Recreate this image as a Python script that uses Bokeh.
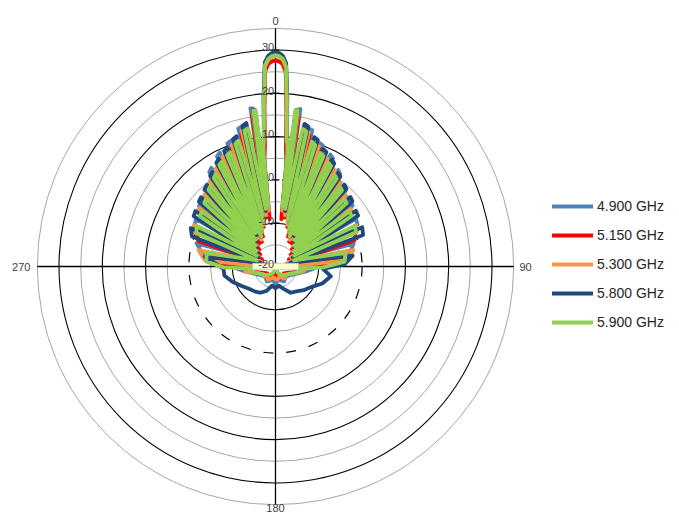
import numpy as np
from bokeh.plotting import figure
from bokeh.models import Range1d, Legend, LegendItem
from bokeh.core.properties import value
from bokeh.embed import file_html
from bokeh.resources import INLINE

# ---------------- data: angle (deg, clockwise from top) and gain (dB) ----------------
back_angles = [100, 110, 120, 130, 140, 150, 160, 170, 180, 190, 200, 210, 220, 230, 240, 250, 260]

ang_4900 = ([0, 1, 2, 3, 4, 5, 6, 7, 8, 9, 11.1, 13.3, 15.1, 17.3, 19.6, 21.4, 23.7, 26.1, 28.0, 30.5,
             33.0, 35.1, 37.8, 40.5, 42.8, 45.9, 49.0, 51.7, 55.3, 59.3, 62.9, 67.7, 73.7, 81.9, 88, 93]
            + back_angles +
            [267, 272, 278.1, 286.3, 292.3, 297.1, 300.7, 304.7, 308.3, 311.0, 314.1, 317.2, 319.5, 322.2,
             324.9, 327.0, 329.5, 332.0, 333.9, 336.3, 338.6, 340.4, 342.7, 344.9, 346.7, 348.9, 351, 352,
             353, 354, 355, 356, 357, 358, 359])
gain_4900 = [29.2, 29.0, 28.4, 26.7, 18.5, 10.0, 6.5, -7, 16.5, 16.8, -8, 12.8, 12.6, -10, 10.3, 10.0,
             -12, 8.8, 8.3, -13, 6.6, 6.0, -13, 4.2, 3.9, -14.2, 3.0, 2.7, -15.3, 1.6, 1.3, -16.3,
             -1.2, -3.0, -15.5, -11,
             -13, -15, -16, -16.5, -16.5, -16, -16.5, -17, -15.5, -17, -16.5, -16, -16.5, -16.5, -16, -15, -13,
             -11, -16, -3.3, -1.0, -16, 1.0, 1.4, -15, 2.5, 3.0, -14, 4.2, 4.6, -12.8, 6.6, 7.2, -13, 8.8,
             9.3, -12, 10.5, 10.8, -10, 13.0, 13.3, -8, 17.0, 16.8, -7, 7.0, 10.5, 19.0, 26.9, 28.4, 29.0]

ang_5150 = ([0, 1, 2, 3, 4, 5, 6, 7.0, 7.8, 8.8, 10.7, 12.7, 14.5, 16.6, 18.7, 20.5, 22.6, 24.8, 26.7,
             29.0, 31.3, 33.4, 35.8, 38.3, 40.5, 43.2, 46.1, 48.6, 51.7, 55.1, 58.2, 62.3, 66.9, 71.8, 78,
             84, 88, 93]
            + back_angles +
            [267, 272, 276, 282, 288.2, 293.1, 297.7, 301.8, 304.9, 308.3, 311.4, 313.9, 316.8, 319.5,
             321.7, 324.2, 326.6, 328.7, 331.0, 333.3, 335.2, 337.4, 339.5, 341.3, 343.4, 345.5, 347.3,
             349.3, 351.2, 352.2, 353.0, 354, 355, 356, 357, 358, 359])
gain_5150 = [27.6, 27.4, 26.8, 25.0, 16.0, 7.5, 4.0, -9, 15.0, 15.2, -8.5, 11.7, 11.4, -10.5, 9.3, 9.0,
             -12.5, 7.6, 7.2, -13.5, 5.6, 5.2, -13.5, 3.6, 3.3, -14.5, 2.2, 2.0, -15.5, 1.0, 0.8, -16.5,
             0.0, -0.8, -17.5, -4.5, -6.5, -14,
             -14, -16, -17, -17.5, -17, -17.5, -17, -18, -17.5, -18, -17, -17.5, -17, -17.5, -17, -16, -14,
             -14, -7, -5, -17.5, -1.2, -0.3, -16.5, 0.6, 0.9, -15.5, 1.8, 2.1, -14.5, 3.2, 3.5, -13.5,
             5.0, 5.5, -13.5, 7.0, 7.5, -12.5, 9.1, 9.4, -10.5, 11.5, 11.9, -8.5, 15.3, 15.1, -9, 4.5, 8.0,
             16.5, 25.2, 26.8, 27.4]

ang_5300 = ([0, 1, 2, 3, 4, 5, 6, 6.8, 7.5, 8.4, 10.3, 12.2, 14.0, 16.0, 18.0, 19.8, 21.9, 24.0, 25.9,
             28.0, 30.2, 32.2, 34.5, 36.9, 39.1, 41.6, 44.2, 46.6, 49.5, 52.6, 55.5, 59.0, 63.0, 67.1,
             71.8, 78, 85, 89, 94]
            + back_angles +
            [266, 271, 275, 282, 288.2, 292.9, 297.0, 301.0, 304.5, 307.4, 310.5, 313.4, 315.8, 318.4,
             320.9, 323.1, 325.5, 327.8, 329.8, 332.0, 334.1, 336.0, 338.1, 340.2, 342.0, 344.0, 346.0,
             347.8, 349.7, 351.6, 352.5, 353.2, 354, 355, 356, 357, 358, 359])
gain_5300 = [28.6, 28.4, 27.8, 26.0, 17.5, 9.5, 6.0, -7, 15.8, 16.0, -8, 12.3, 12.0, -10, 9.8, 9.5,
             -11.5, 8.0, 7.6, -13, 6.4, 5.9, -12.5, 4.6, 4.2, -13.8, 3.2, 2.9, -14.8, 1.9, 1.7, -15.8,
             0.9, 0.4, -16.7, -1.6, -3.4, -16, -13,
             -13.5, -15.5, -16.5, -17, -16.5, -17, -17.5, -17, -17, -17.5, -17, -16.5, -17, -16.5, -16.5, -15.5, -13,
             -13, -16, -3.6, -1.8, -16.5, 0.6, 1.1, -15.5, 1.9, 2.2, -14.5, 3.0, 3.4, -13.5, 4.5, 5.0,
             -12.3, 6.2, 6.8, -13, 8.0, 8.5, -11.5, 9.8, 10.2, -10, 12.4, 12.6, -8, 16.2, 16.0, -7, 6.5,
             10.0, 18.0, 26.2, 27.8, 28.4]

ang_5800 = ([0, 1, 2, 3, 4, 5, 6, 6.8, 7.4, 8.2, 9.8, 11.5, 13.2, 15.0, 16.7, 18.5, 20.3, 22.1, 24.0,
             25.9, 27.8, 29.7, 31.7, 33.7, 35.8, 37.9, 40.1, 42.4, 44.7, 47.1, 49.7, 52.4, 55.3, 58.4,
             61.8, 65.6, 70.2, 76, 82, 88, 93]
            + back_angles +
            [267, 272, 278, 284, 289.8, 294.4, 298.2, 301.6, 304.7, 307.6, 310.3, 312.9, 315.3, 317.6,
             319.9, 322.1, 324.2, 326.3, 328.3, 330.3, 332.2, 334.1, 336.0, 337.9, 339.7, 341.5, 343.3,
             345.0, 346.8, 348.5, 350.2, 351.8, 352.6, 353.2, 354, 355, 356, 357, 358, 359])
gain_5800 = [29.5, 29.3, 28.7, 27.0, 19.0, 10.5, 6.5, -6, 16.4, 16.6, -7, 13.6, 13.2, -9, 11.2, 10.8,
             -11, 9.3, 8.9, -12.3, 7.9, 7.4, -11.8, 6.0, 5.6, -12.8, 4.7, 4.3, -13.8, 3.6, 3.3, -14.8,
             2.6, 2.4, -15.5, 2.0, 1.5, -16.5, -2.0, -4.0, -9,
             -7, -8.5, -10.5, -11.5, -12.5, -13, -14.5, -15.5, -15, -15.5, -14, -13, -12.5, -12, -11, -9.5, -8,
             -8, -6.5, -3.5, -16.5, 0.5, 1.5, -15.5, 2.2, 2.5, -14.8, 3.2, 3.5, -13.8, 4.2, 4.6, -12.8,
             5.8, 6.2, -11.5, 7.6, 8.1, -12.3, 9.2, 9.6, -11, 11.0, 11.4, -9, 13.4, 13.8, -7, 16.6, 16.4,
             -6, 7.0, 11.0, 19.5, 27.2, 28.7, 29.3]

ang_5900 = ([0, 1, 2, 3, 4, 5, 6, 6.7, 7.3, 8.1, 9.5, 11.2, 12.9, 14.6, 16.3, 18.1, 19.8, 21.6, 23.5,
             25.2, 27.1, 29.0, 30.9, 32.8, 34.9, 36.9, 39.0, 41.2, 43.4, 45.7, 48.3, 50.8, 53.4, 56.4,
             59.5, 62.9, 66.9, 71.3, 79, 86, 91, 96]
            + back_angles +
            [264, 269, 274, 281, 288.7, 293.1, 297.1, 300.5, 303.6, 306.6, 309.2, 311.7, 314.3, 316.6,
             318.8, 321.0, 323.1, 325.1, 327.2, 329.1, 331.0, 332.9, 334.8, 336.5, 338.4, 340.2, 341.9,
             343.7, 345.4, 347.1, 348.8, 350.5, 351.9, 352.7, 353.3, 354, 355, 356, 357, 358, 359])
gain_5900 = [28.8, 28.6, 28.0, 26.3, 18.0, 10.0, 7.0, -6, 16.3, 16.5, -6.5, 12.4, 12.0, -9, 10.0, 9.5,
             -11, 8.2, 7.8, -12.3, 6.9, 6.5, -11.3, 5.2, 4.7, -12.5, 3.7, 3.3, -13.5, 2.3, 2.0, -14.5,
             1.3, 1.1, -15, 0.6, 0.2, -15.5, -3.5, -4.0, -9, -15,
             -14, -15.5, -16.5, -17, -17.5, -18, -18.5, -19.5, -20, -19.5, -18.5, -18, -17.5, -17, -16.5, -15.5, -14,
             -15, -8, -4.0, -3.8, -15.5, -0.1, 0.4, -15, 1.0, 1.2, -14.3, 2.0, 2.4, -13.3, 3.5, 3.9,
             -12.3, 4.9, 5.5, -11, 6.8, 7.2, -12.3, 8.0, 8.4, -11, 9.8, 10.3, -9, 12.2, 12.5, -6.5,
             16.4, 16.3, -6, 7.5, 10.5, 18.5, 26.5, 28.0, 28.6]

series_names = ["4.900 GHz", "5.150 GHz", "5.300 GHz", "5.800 GHz", "5.900 GHz"]
series_angles = [ang_4900, ang_5150, ang_5300, ang_5800, ang_5900]
series_gains = [gain_4900, gain_5150, gain_5300, gain_5800, gain_5900]
series_colors = ["#4F81BD", "#FF0000", "#F79646", "#1F497D", "#92D050"]

db_min, db_max = -20, 35
ring_levels = [-15, -10, -5, 0, 5, 10, 15, 20, 25, 30, 35]
tick_levels = [-20, -10, 0, 10, 20, 30]
tick_labels = ["-20", "-10", "0", "10", "20", "30"]
angle_labels = ["0", "90", "180", "270"]

for a, g in zip(series_angles, series_gains):
    assert len(a) == len(g), (len(a), len(g))

# ---------------- layout ----------------
W, H = 679, 513
S = 4.33           # px per dB
CX, CY = 275, 266  # centre in px from top-left
R = db_max - db_min

p = figure(width=W, height=H,
           x_range=Range1d(-CX / S, (W - CX) / S),
           y_range=Range1d(-(H - CY) / S, CY / S),
           x_axis_type=None, y_axis_type=None,
           toolbar_location=None, output_backend="svg", min_border=0)
p.outline_line_color = None
p.background_fill_color = "white"
p.border_fill_color = "white"

FONT = value("Liberation Sans")
TXT = "#404040"

# rings
for lvl in ring_levels:
    r = lvl - db_min
    if lvl == 0:
        p.circle(x=0, y=0, radius=r, fill_color=None, line_color="black",
                 line_width=1.2, line_dash="10 13")
    elif lvl % 10 == 0:
        p.circle(x=0, y=0, radius=r, fill_color=None, line_color="black", line_width=1.1)
    else:
        p.circle(x=0, y=0, radius=r, fill_color=None, line_color="#A6A6A6", line_width=1)

# cross axes
p.segment(x0=[-R, 0], y0=[0, -R], x1=[R, 0], y1=[0, R], line_color="black", line_width=1.3)
# radial ticks
tr = [t - db_min for t in tick_levels]
p.segment(x0=[-0.9] * len(tr), y0=tr, x1=[0.9] * len(tr), y1=tr, line_color="black", line_width=1.2)

# series
renderers = []
for name, ang, vals, col in zip(series_names, series_angles, series_gains, series_colors):
    th = np.radians(np.array(ang + [ang[0]], dtype=float))
    rr = np.clip(np.array(vals + [vals[0]], dtype=float) - db_min, 0, None)
    xs = rr * np.sin(th)
    ys = rr * np.cos(th)
    rend = p.line(xs, ys, line_color=col, line_width=3.8, line_join="round", line_cap="round")
    renderers.append((name, rend))

# centre box
p.rect(x=0, y=0, width=10.6, height=1.5, fill_color="#FFFFCC", line_color="#BFBFBF", line_width=0.8)

# radial tick labels
p.text(x=[-0.3] * len(tr), y=[t + 0.6 for t in tr], text=tick_labels,
       text_font=FONT, text_font_size=value("11px"), text_color=TXT,
       text_align="right", text_baseline="alphabetic")

# angle labels
p.text(x=[0], y=[R + 1.6], text=[angle_labels[0]], text_font=FONT, text_font_size=value("11px"),
       text_color=TXT, text_align="center", text_baseline="alphabetic")
p.text(x=[R + 1.35], y=[0], text=[angle_labels[1]], text_font=FONT, text_font_size=value("11px"),
       text_color=TXT, text_align="left", text_baseline="middle")
p.text(x=[0], y=[-(R + 0.8)], text=[angle_labels[2]], text_font=FONT, text_font_size=value("11px"),
       text_color=TXT, text_align="center", text_baseline="alphabetic")
p.text(x=[-R - 1.6], y=[0], text=[angle_labels[3]], text_font=FONT, text_font_size=value("11px"),
       text_color=TXT, text_align="right", text_baseline="middle")

legend = Legend(items=[LegendItem(label=n, renderers=[r]) for n, r in renderers],
                location=(552, 181), padding=0, margin=0, spacing=9,
                glyph_width=41, glyph_height=20, label_height=20, label_standoff=4,
                border_line_color=None, background_fill_alpha=0,
                label_text_font="Liberation Sans", label_text_font_size="14px",
                label_text_color="#262626")
p.add_layout(legend)

open("out.html", "w").write(file_html(p, INLINE))
